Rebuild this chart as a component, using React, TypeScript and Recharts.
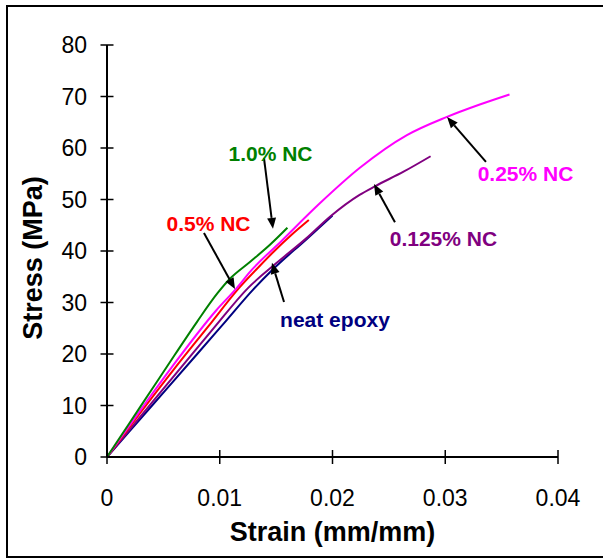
import React from 'react';
import { LineChart, Line, XAxis, YAxis, ReferenceLine, ReferenceDot, Label } from 'recharts';

// values
const neatStrain = [0, 0.004, 0.008, 0.0105, 0.013, 0.0147, 0.0177, 0.02];
const neatStress = [0, 10, 20, 26.3, 32.6, 36.4, 42.3, 46.9];

const nc0125Strain = [0, 0.004, 0.0065, 0.0095, 0.0125, 0.015, 0.0177, 0.0198, 0.0224, 0.0238, 0.0263, 0.0287];
const nc0125Stress = [0, 10.6, 17.2, 25.1, 32.8, 37.6, 42.5, 46.7, 50.9, 52.6, 55.4, 58.4];

const nc05Strain = [0, 0.003, 0.006, 0.009, 0.0117, 0.0135, 0.0148, 0.0163, 0.0179];
const nc05Stress = [0, 8.7, 17.2, 25.4, 32.8, 37.0, 39.9, 43.0, 46.0];

const nc025Strain = [0, 0.003, 0.0057, 0.0097, 0.0115, 0.0127, 0.0155, 0.0189, 0.0224, 0.0266, 0.0301, 0.033, 0.0357];
const nc025Stress = [0, 9.2, 17.3, 28.5, 32.8, 36.0, 42.0, 49.3, 56.1, 62.5, 66.0, 68.4, 70.4];

const nc10Strain = [0, 0.002, 0.004, 0.006, 0.008, 0.0098, 0.0109, 0.0127, 0.0145, 0.016];
const nc10Stress = [0, 6.6, 13.2, 19.8, 26.3, 31.8, 34.6, 37.9, 41.3, 44.5];

const xTicks = [0, 0.01, 0.02, 0.03, 0.04];
const yTicks = [0, 10, 20, 30, 40, 50, 60, 70, 80];

// annotation labels: text, colour, anchor point (strain, stress), arrow tail and head
const labelNames = ['1.0% NC', '0.5% NC', 'neat epoxy', '0.25% NC', '0.125% NC'];
const labelColors = ['#008000', '#FF0000', '#000080', '#FF00FF', '#800080'];
const labelAt = [[0.0145, 57.5], [0.009, 43.9], [0.02022, 25.2], [0.03712, 53.5], [0.02984, 41.0]];
const arrowTail = [[0.01392, 58.1], [0.0086, 43.5], [0.0157, 30.1], [0.03361, 57.3], [0.02554, 45.6]];
const arrowHead = [[0.01472, 44.3], [0.01135, 32.6], [0.01463, 37.7], [0.03016, 66.0], [0.02368, 53.0]];

const toPoints = (xs: number[], ys: number[]) => xs.map((x, i) => ({ strain: x, stress: ys[i] }));

const series = [
  { name: 'neat epoxy', color: '#000080', data: toPoints(neatStrain, neatStress) },
  { name: '0.125% NC', color: '#800080', data: toPoints(nc0125Strain, nc0125Stress) },
  { name: '0.5% NC', color: '#FF0000', data: toPoints(nc05Strain, nc05Stress) },
  { name: '0.25% NC', color: '#FF00FF', data: toPoints(nc025Strain, nc025Stress) },
  { name: '1.0% NC', color: '#008000', data: toPoints(nc10Strain, nc10Stress) },
];

const FONT = '"Liberation Sans", Arial, sans-serif';

const XTick = ({ x, y, payload }: any) => (
  <g>
    <line x1={x} x2={x} y1={y - 7} y2={y + 7} stroke="#000" strokeWidth={1.5} />
    <text x={x} y={y + 49} textAnchor="middle" fontSize={23} fontFamily={FONT} fill="#000">
      {String(payload.value)}
    </text>
  </g>
);

const YTick = ({ x, y, payload }: any) => (
  <g>
    <line x1={x - 6.5} x2={x + 6.5} y1={y} y2={y} stroke="#000" strokeWidth={1.5} />
    <text x={x - 20} y={y + 8} textAnchor="end" fontSize={23} fontFamily={FONT} fill="#000">
      {String(payload.value)}
    </text>
  </g>
);

const Arrow = (props: any) => {
  const { x1, y1, x2, y2 } = props;
  const ang = Math.atan2(y2 - y1, x2 - x1);
  const len = 11;
  const half = 4.5;
  const bx = x2 - len * Math.cos(ang);
  const by = y2 - len * Math.sin(ang);
  const px = -Math.sin(ang) * half;
  const py = Math.cos(ang) * half;
  return (
    <g>
      <line x1={x1} y1={y1} x2={bx} y2={by} stroke="#000" strokeWidth={2} />
      <polygon points={`${x2},${y2} ${bx + px},${by + py} ${bx - px},${by - py}`} fill="#000" />
    </g>
  );
};

export default function App() {
  return (
    <div style={{ position: 'absolute', left: 0, top: 0, width: 603, height: 559, background: '#fff', overflow: 'hidden' }}>
      <div
        style={{
          position: 'absolute',
          left: 6,
          top: 5,
          width: 620,
          height: 553,
          boxSizing: 'border-box',
          border: '2px solid #000',
        }}
      />
      <div style={{ position: 'absolute', left: 0, top: 0 }}>
        <LineChart width={603} height={559} margin={{ top: 45, right: 45, bottom: 0, left: 0 }}>
          <XAxis
            type="number"
            dataKey="strain"
            domain={[0, 0.04]}
            ticks={xTicks}
            height={102}
            axisLine={{ stroke: '#000', strokeWidth: 2 }}
            tickLine={false}
            tickSize={0}
            tickMargin={0}
            tick={<XTick />}
            interval={0}
          >
            <Label
              value="Strain (mm/mm)"
              position="center"
              dy={23}
              fontSize={27}
              fontWeight="bold"
              fontFamily={FONT}
              fill="#000"
            />
          </XAxis>
          <YAxis
            type="number"
            dataKey="stress"
            domain={[0, 80]}
            ticks={yTicks}
            width={107}
            axisLine={{ stroke: '#000', strokeWidth: 2 }}
            tickLine={false}
            tickSize={0}
            tickMargin={0}
            tick={<YTick />}
            interval={0}
          >
            <Label
              value="Stress (MPa)"
              position="center"
              angle={-90}
              dx={-21}
              dy={7}
              fontSize={27}
              fontWeight="bold"
              fontFamily={FONT}
              fill="#000"
            />
          </YAxis>
          {series.map((s) => (
            <Line
              key={s.name}
              data={s.data}
              dataKey="stress"
              type="monotone"
              stroke={s.color}
              strokeWidth={2}
              dot={false}
              isAnimationActive={false}
            />
          ))}
          {labelNames.map((n, i) => (
            <ReferenceLine
              key={'arrow' + n}
              segment={[
                { x: arrowTail[i][0], y: arrowTail[i][1] },
                { x: arrowHead[i][0], y: arrowHead[i][1] },
              ]}
              shape={<Arrow />}
            />
          ))}
          {labelNames.map((n, i) => (
            <ReferenceDot
              key={'label' + n}
              x={labelAt[i][0]}
              y={labelAt[i][1]}
              r={0}
              shape={(p: any) => (
                <text
                  x={p.cx}
                  y={p.cy}
                  textAnchor="middle"
                  fontSize={21}
                  fontWeight="bold"
                  fontFamily={FONT}
                  fill={labelColors[i]}
                >
                  {n}
                </text>
              )}
            />
          ))}
        </LineChart>
      </div>
    </div>
  );
}
